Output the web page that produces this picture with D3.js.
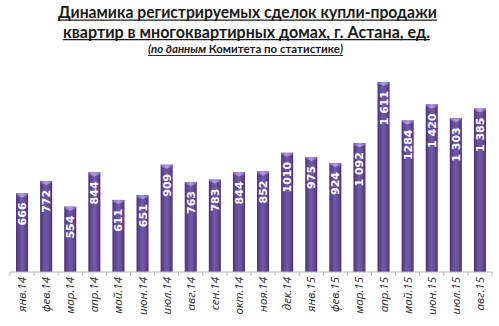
<!DOCTYPE html>
<html><head><meta charset="utf-8">
<script src="https://cdn.jsdelivr.net/npm/d3@7/dist/d3.min.js"></script>
<style>body{margin:0;background:#fff}svg{display:block}</style>
</head><body><svg id="c" width="499" height="326"></svg>
<script>
const months = ["янв.14","фев.14","мар.14","апр.14","май.14","июн.14","июл.14","авг.14","сен.14","окт.14","ноя.14","дек.14","янв.15","фев.15","мар.15","апр.15","май.15","июн.15","июл.15","авг.15"];
const values = [666,772,554,844,611,651,909,763,783,844,852,1010,975,924,1092,1611,1284,1420,1303,1385];
const valueLabels = ["666","772","554","844","611","651","909","763","783","844","852","1010","975","924","1 092","1 611","1284","1 420","1 303","1 385"];
const titleLines = ["Динамика регистрируемых сделок купли-продажи","квартир в многоквартирных домах, г. Астана, ед."];
const subtitleParts = [["(по данным ","italic"],["Комитета по статистике","normal"],[")","italic"]];

const svg = d3.select("#c");
const defs = svg.append("defs");
const g1 = defs.append("linearGradient").attr("id","barg").attr("x1","0").attr("x2","1").attr("y1","0").attr("y2","0");
[[0,"#4a3173"],[0.18,"#5f4490"],[0.5,"#7459a8"],[0.82,"#5f4490"],[1,"#4a3173"]].forEach(s=>g1.append("stop").attr("offset",s[0]).attr("stop-color",s[1]));
const g2 = defs.append("linearGradient").attr("id","capg").attr("x1","0").attr("x2","1").attr("y1","0").attr("y2","0");
[[0,"#7c62b8"],[0.5,"#b19ae0"],[1,"#7c62b8"]].forEach(s=>g2.append("stop").attr("offset",s[0]).attr("stop-color",s[1]));

const x = d3.scaleBand().domain(months).range([10, 492]).paddingInner(0.5).paddingOuter(0.25);
const y = d3.scaleLinear().domain([0, 1700]).range([272, 71.4]);

// title
const tf = "Lato, 'Open Sans', sans-serif";
const tl = [[18,58,437],[37.5,63,430]];
titleLines.forEach((t,i)=>{
  svg.append("text").attr("x",(tl[i][1]+tl[i][2])/2).attr("y",tl[i][0]).attr("text-anchor","middle")
    .attr("font-family",tf).attr("font-weight","bold").attr("font-size",17.5).attr("fill","#1a1a1a")
    .attr("textLength",tl[i][2]-tl[i][1]).attr("lengthAdjust","spacingAndGlyphs").text(t);
  svg.append("line").attr("x1",tl[i][1]).attr("x2",tl[i][2]).attr("y1",tl[i][0]+2.2).attr("y2",tl[i][0]+2.2)
    .attr("stroke","#1a1a1a").attr("stroke-width",1.2);
});
const st = svg.append("text").attr("x",148).attr("y",53).attr("font-family",tf).attr("font-weight","bold")
  .attr("font-size",11).attr("fill","#1a1a1a").attr("textLength",195).attr("lengthAdjust","spacingAndGlyphs");
subtitleParts.forEach(p=>st.append("tspan").attr("font-style",p[1]).text(p[0]));
svg.append("line").attr("x1",148).attr("x2",343).attr("y1",55.5).attr("y2",55.5).attr("stroke","#1a1a1a").attr("stroke-width",0.9);

// bars
const bw = x.bandwidth();
const bars = svg.append("g");
months.forEach((m,i)=>{
  const x0 = x(m), top = y(values[i]);
  bars.append("rect").attr("x",x0).attr("y",top).attr("width",bw).attr("height",y(0)-top).attr("fill","url(#barg)");
  bars.append("path").attr("d",`M${x0},${top}L${x0+bw},${top}L${x0+bw-1},${top+2}L${x0+bw/2},${top+4}L${x0+1},${top+2}Z`).attr("fill","url(#capg)");
  bars.append("text").attr("transform",`translate(${x0+bw/2+4},${top+9}) rotate(-90)`)
    .attr("text-anchor","end").attr("font-family","'DejaVu Sans', sans-serif").attr("font-weight","bold")
    .attr("font-size",11).attr("fill","#fff").text(valueLabels[i]);
});

// axis
const ax = svg.append("g").attr("transform","translate(0,272)");
ax.append("line").attr("x1",10).attr("x2",492).attr("stroke","#b5b5b5").attr("stroke-width",1);
const step = x.step();
d3.range(months.length+1).forEach(i=>{
  const xx = 10 + i*(482/months.length);
  ax.append("line").attr("x1",xx).attr("x2",xx).attr("y1",0).attr("y2",4).attr("stroke","#b5b5b5");
});
months.forEach(m=>{
  ax.append("text").attr("transform",`translate(${x(m)+bw/2+4},5) rotate(-90)`).attr("text-anchor","end")
    .attr("font-family","'Open Sans', sans-serif").attr("font-style","italic").attr("font-size",11.5).attr("fill","#2a2a2a").text(m);
});
</script></body></html>
